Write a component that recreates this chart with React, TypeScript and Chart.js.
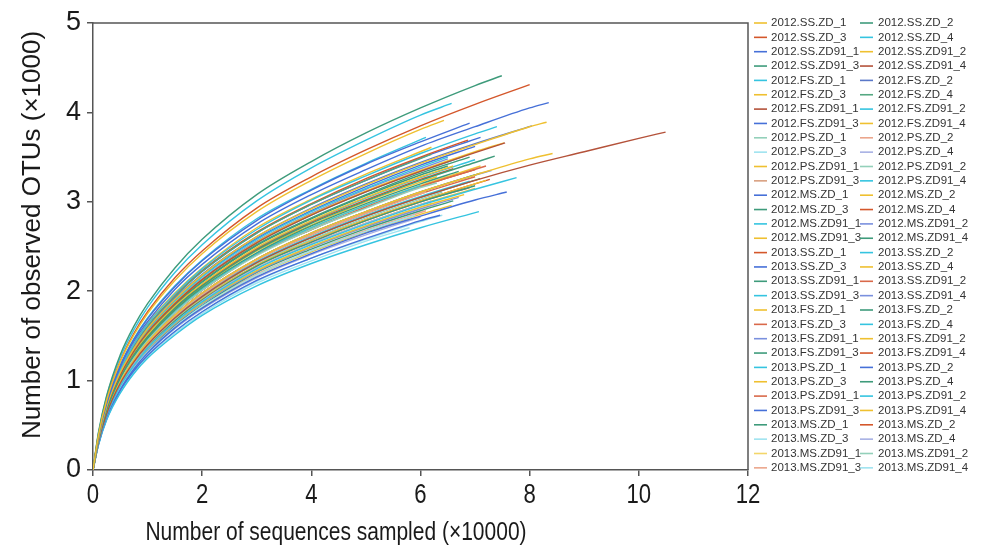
import { useEffect, useRef } from "react";
import { Chart, registerables } from "chart.js";
Chart.register(...registerables);

const xTicks = [0, 2, 4, 6, 8, 10, 12];
const yTicks = [0, 1, 2, 3, 4, 5];
const xTitle = "Number of sequences sampled (×10000)";
const yTitle = "Number of observed OTUs (×1000)";

// sampling depths (×10000) shared by all curves
const xGrid = [0, 0.1, 0.25, 0.5, 0.75, 1, 1.5, 2, 3, 4, 5, 6, 7, 8, 9, 10];

const names = [
  "2012.SS.ZD_1", "2012.SS.ZD_2", "2012.SS.ZD_3", "2012.SS.ZD_4",
  "2012.SS.ZD91_1", "2012.SS.ZD91_2", "2012.SS.ZD91_3", "2012.SS.ZD91_4",
  "2012.FS.ZD_1", "2012.FS.ZD_2", "2012.FS.ZD_3", "2012.FS.ZD_4",
  "2012.FS.ZD91_1", "2012.FS.ZD91_2", "2012.FS.ZD91_3", "2012.FS.ZD91_4",
  "2012.PS.ZD_1", "2012.PS.ZD_2", "2012.PS.ZD_3", "2012.PS.ZD_4",
  "2012.PS.ZD91_1", "2012.PS.ZD91_2", "2012.PS.ZD91_3", "2012.PS.ZD91_4",
  "2012.MS.ZD_1", "2012.MS.ZD_2", "2012.MS.ZD_3", "2012.MS.ZD_4",
  "2012.MS.ZD91_1", "2012.MS.ZD91_2", "2012.MS.ZD91_3", "2012.MS.ZD91_4",
  "2013.SS.ZD_1", "2013.SS.ZD_2", "2013.SS.ZD_3", "2013.SS.ZD_4",
  "2013.SS.ZD91_1", "2013.SS.ZD91_2", "2013.SS.ZD91_3", "2013.SS.ZD91_4",
  "2013.FS.ZD_1", "2013.FS.ZD_2", "2013.FS.ZD_3", "2013.FS.ZD_4",
  "2013.FS.ZD91_1", "2013.FS.ZD91_2", "2013.FS.ZD91_3", "2013.FS.ZD91_4",
  "2013.PS.ZD_1", "2013.PS.ZD_2", "2013.PS.ZD_3", "2013.PS.ZD_4",
  "2013.PS.ZD91_1", "2013.PS.ZD91_2", "2013.PS.ZD91_3", "2013.PS.ZD91_4",
  "2013.MS.ZD_1", "2013.MS.ZD_2", "2013.MS.ZD_3", "2013.MS.ZD_4",
  "2013.MS.ZD91_1", "2013.MS.ZD91_2", "2013.MS.ZD91_3", "2013.MS.ZD91_4",
];

const Y = "#EFC030", G = "#3E9B7B", R = "#D4572B", C = "#35C4E0", B = "#4670D8";
const BR = "#B4523A", LG = "#93D0BA", LS = "#EBA68C", LC = "#9FE3F0", LV = "#A7B0E4";
const LY = "#F3D66A", PW = "#7A90DE", SR = "#D9694A", TAN = "#D8A080", G2 = "#55A882", SL = "#5A78C8";

const colors = [
  Y, G, R, C, B, Y, G, BR, C, SL, Y, G2, BR, C, B, Y,
  LG, LS, LC, LV, Y, LG, TAN, C, B, Y, G, R, C, PW, Y, G,
  R, C, B, Y, G, SR, C, PW, Y, G, SR, C, PW, Y, G, R,
  C, B, Y, G, SR, C, B, Y, G, R, LC, LV, LY, LG, LS, LC,
];

const endX = [
  6.43, 7.49, 8.0, 6.57, 8.35, 8.31, 7.36, 7.55, 7.4, 8.04, 7.53, 6.2, 10.49, 7.76, 7.58, 8.42,
  6.3, 6.1, 5.9, 6.2, 6.6, 6.4, 6.8, 6.5, 6.9, 6.2, 6.7, 6.87, 6.0, 6.5, 6.8, 6.9,
  6.6, 6.1, 7.1, 6.3, 7.0, 7.2, 6.9, 6.7, 7.2, 7.1, 6.9, 7.0, 7.3, 7.0, 6.6, 7.27,
  7.07, 6.36, 6.57, 7.09, 7.0, 6.8, 7.0, 7.1, 6.5, 7.0, 6.4, 6.0, 6.3, 6.2, 6.1, 5.8,
];

const endY = [
  3.91, 4.41, 4.31, 4.10, 4.11, 3.89, 3.51, 3.66, 3.84, 3.85, 3.66, 3.53, 3.78, 3.27, 3.11, 3.54,
  3.21, 3.11, 2.85, 3.01, 3.40, 3.11, 3.26, 3.50, 3.88, 3.61, 3.34, 3.69, 3.18, 3.48, 3.08, 3.50,
  3.37, 3.72, 3.72, 3.28, 3.18, 3.40, 3.23, 3.05, 3.24, 3.32, 3.16, 3.47, 3.35, 3.15, 3.01, 3.25,
  2.89, 2.85, 2.96, 3.26, 3.28, 3.51, 3.62, 3.40, 3.40, 3.36, 2.85, 2.83, 2.97, 2.98, 2.90, 2.71,
];

// observed OTUs (×1000) at the xGrid depths
const y2012 = [
  [0, 0.39, 0.78, 1.21, 1.51, 1.75, 2.12, 2.42, 2.89, 3.24, 3.54, 3.81],
  [0, 0.42, 0.83, 1.29, 1.61, 1.86, 2.26, 2.58, 3.08, 3.45, 3.77, 4.05, 4.30],
  [0, 0.40, 0.79, 1.22, 1.53, 1.77, 2.15, 2.45, 2.93, 3.28, 3.58, 3.85, 4.09],
  [0, 0.41, 0.82, 1.26, 1.57, 1.82, 2.21, 2.52, 3.01, 3.38, 3.69, 3.97],
  [0, 0.37, 0.74, 1.15, 1.44, 1.66, 2.02, 2.30, 2.75, 3.08, 3.36, 3.62, 3.84, 4.05],
  [0, 0.35, 0.71, 1.09, 1.36, 1.58, 1.91, 2.18, 2.61, 2.92, 3.19, 3.43, 3.64, 3.84],
  [0, 0.34, 0.67, 1.03, 1.29, 1.49, 1.81, 2.06, 2.46, 2.76, 3.01, 3.24, 3.44],
  [0, 0.35, 0.69, 1.06, 1.33, 1.54, 1.86, 2.13, 2.54, 2.85, 3.11, 3.34, 3.55],
  [0, 0.37, 0.73, 1.12, 1.41, 1.63, 1.97, 2.25, 2.69, 3.02, 3.29, 3.54, 3.76],
  [0, 0.36, 0.71, 1.09, 1.37, 1.58, 1.92, 2.19, 2.61, 2.93, 3.20, 3.44, 3.65],
  [0, 0.35, 0.69, 1.06, 1.33, 1.54, 1.87, 2.13, 2.55, 2.86, 3.12, 3.35, 3.56],
  [0, 0.36, 0.72, 1.11, 1.38, 1.60, 1.94, 2.22, 2.65, 2.97, 3.24],
  [0, 0.32, 0.63, 0.97, 1.21, 1.40, 1.70, 1.94, 2.32, 2.60, 2.84, 3.05, 3.24, 3.41, 3.56, 3.71],
  [0, 0.31, 0.61, 0.94, 1.17, 1.36, 1.65, 1.88, 2.25, 2.52, 2.75, 2.96, 3.14],
  [0, 0.29, 0.59, 0.90, 1.13, 1.31, 1.59, 1.81, 2.16, 2.42, 2.65, 2.84, 3.02],
  [0, 0.32, 0.64, 0.99, 1.23, 1.43, 1.73, 1.98, 2.36, 2.65, 2.89, 3.11, 3.30, 3.48],
  [0, 0.33, 0.65, 1.00, 1.25, 1.45, 1.76, 2.01, 2.40, 2.69, 2.93, 3.16],
  [0, 0.32, 0.64, 0.98, 1.23, 1.42, 1.72, 1.96, 2.35, 2.63, 2.87],
  [0, 0.30, 0.59, 0.91, 1.14, 1.32, 1.60, 1.83, 2.18, 2.45, 2.67],
  [0, 0.31, 0.61, 0.94, 1.18, 1.36, 1.65, 1.89, 2.26, 2.53, 2.76],
  [0, 0.34, 0.68, 1.04, 1.30, 1.51, 1.83, 2.08, 2.49, 2.79, 3.05, 3.28],
  [0, 0.31, 0.62, 0.96, 1.20, 1.39, 1.69, 1.93, 2.31, 2.58, 2.82, 3.03],
  [0, 0.32, 0.64, 0.99, 1.23, 1.43, 1.73, 1.98, 2.36, 2.65, 2.89, 3.11],
  [0, 0.35, 0.70, 1.08, 1.35, 1.56, 1.89, 2.16, 2.58, 2.89, 3.15, 3.39],
  [0, 0.38, 0.76, 1.17, 1.46, 1.69, 2.05, 2.34, 2.79, 3.13, 3.42, 3.67],
  [0, 0.37, 0.73, 1.13, 1.41, 1.64, 1.98, 2.26, 2.71, 3.03, 3.31],
  [0, 0.33, 0.66, 1.02, 1.27, 1.47, 1.79, 2.04, 2.43, 2.73, 2.98, 3.20],
  [0, 0.36, 0.72, 1.11, 1.39, 1.61, 1.95, 2.23, 2.66, 2.98, 3.26, 3.50],
  [0, 0.33, 0.66, 1.01, 1.26, 1.46, 1.77, 2.02, 2.42, 2.71, 2.96],
  [0, 0.35, 0.69, 1.07, 1.34, 1.55, 1.88, 2.14, 2.56, 2.87, 3.14, 3.37],
  [0, 0.30, 0.61, 0.93, 1.17, 1.35, 1.64, 1.87, 2.23, 2.50, 2.73, 2.94],
  [0, 0.34, 0.68, 1.05, 1.32, 1.52, 1.85, 2.11, 2.52, 2.82, 3.08, 3.32],
];

const y2013 = [
  [0, 0.34, 0.67, 1.03, 1.29, 1.49, 1.81, 2.07, 2.47, 2.77, 3.02, 3.25],
  [0, 0.38, 0.76, 1.17, 1.47, 1.70, 2.06, 2.35, 2.81, 3.14, 3.43],
  [0, 0.36, 0.72, 1.11, 1.38, 1.60, 1.94, 2.22, 2.65, 2.97, 3.24, 3.49],
  [0, 0.33, 0.66, 1.02, 1.28, 1.48, 1.80, 2.05, 2.45, 2.74, 3.00, 3.22],
  [0, 0.31, 0.62, 0.95, 1.19, 1.38, 1.67, 1.90, 2.28, 2.55, 2.79, 3.00],
  [0, 0.33, 0.65, 1.00, 1.26, 1.45, 1.76, 2.01, 2.41, 2.69, 2.94, 3.17],
  [0, 0.32, 0.63, 0.97, 1.22, 1.41, 1.71, 1.95, 2.33, 2.61, 2.85, 3.06],
  [0, 0.30, 0.60, 0.93, 1.16, 1.34, 1.63, 1.86, 2.22, 2.49, 2.72, 2.92],
  [0, 0.31, 0.62, 0.96, 1.20, 1.39, 1.68, 1.92, 2.29, 2.57, 2.80, 3.01],
  [0, 0.32, 0.64, 0.99, 1.23, 1.43, 1.73, 1.98, 2.36, 2.65, 2.89, 3.11],
  [0, 0.31, 0.62, 0.95, 1.19, 1.38, 1.67, 1.90, 2.28, 2.55, 2.79, 3.00],
  [0, 0.34, 0.67, 1.04, 1.30, 1.50, 1.82, 2.08, 2.48, 2.78, 3.04, 3.27],
  [0, 0.32, 0.64, 0.99, 1.23, 1.43, 1.73, 1.98, 2.36, 2.65, 2.89, 3.11, 3.30],
  [0, 0.31, 0.61, 0.94, 1.18, 1.36, 1.65, 1.89, 2.26, 2.53, 2.76, 2.97],
  [0, 0.30, 0.60, 0.92, 1.15, 1.33, 1.62, 1.84, 2.21, 2.47, 2.70, 2.90],
  [0, 0.31, 0.62, 0.96, 1.20, 1.39, 1.68, 1.92, 2.29, 2.57, 2.80, 3.01, 3.20],
  [0, 0.28, 0.56, 0.86, 1.08, 1.25, 1.51, 1.73, 2.06, 2.31, 2.52, 2.71],
  [0, 0.29, 0.57, 0.89, 1.11, 1.28, 1.55, 1.77, 2.12, 2.37, 2.59, 2.79],
  [0, 0.30, 0.59, 0.91, 1.14, 1.32, 1.60, 1.82, 2.18, 2.44, 2.66, 2.86],
  [0, 0.32, 0.63, 0.97, 1.21, 1.40, 1.70, 1.94, 2.32, 2.60, 2.84, 3.05],
  [0, 0.32, 0.64, 0.98, 1.23, 1.42, 1.72, 1.96, 2.35, 2.63, 2.87, 3.09],
  [0, 0.35, 0.69, 1.06, 1.33, 1.54, 1.86, 2.13, 2.54, 2.85, 3.11, 3.34],
  [0, 0.35, 0.70, 1.08, 1.35, 1.57, 1.90, 2.17, 2.59, 2.90, 3.17, 3.41],
  [0, 0.33, 0.66, 1.01, 1.26, 1.46, 1.77, 2.02, 2.42, 2.71, 2.96, 3.18],
  [0, 0.34, 0.68, 1.05, 1.31, 1.52, 1.84, 2.10, 2.51, 2.81, 3.07, 3.30],
  [0, 0.33, 0.65, 1.00, 1.26, 1.45, 1.76, 2.01, 2.41, 2.69, 2.94, 3.17],
  [0, 0.29, 0.57, 0.88, 1.10, 1.28, 1.55, 1.77, 2.11, 2.37, 2.58, 2.78],
  [0, 0.29, 0.58, 0.90, 1.12, 1.30, 1.58, 1.80, 2.15, 2.41, 2.63],
  [0, 0.30, 0.60, 0.93, 1.16, 1.34, 1.63, 1.86, 2.22, 2.49, 2.72, 2.92],
  [0, 0.30, 0.61, 0.93, 1.17, 1.35, 1.64, 1.87, 2.23, 2.50, 2.73],
  [0, 0.30, 0.59, 0.91, 1.14, 1.32, 1.61, 1.83, 2.19, 2.45, 2.68],
  [0, 0.28, 0.57, 0.87, 1.09, 1.26, 1.53, 1.75, 2.09, 2.34, 2.56],
];

const FONT = '"Liberation Sans", Arial, sans-serif';

const decorPlugin = {
  id: "decor",
  afterDraw(chart: any) {
    const { ctx, chartArea: a } = chart;
    const xs = chart.scales.x;
    const ys = chart.scales.y;
    ctx.save();
    // top / right frame
    ctx.strokeStyle = "#555";
    ctx.lineWidth = 1.5;
    ctx.beginPath();
    ctx.moveTo(a.left, a.top);
    ctx.lineTo(a.right, a.top);
    ctx.lineTo(a.right, a.bottom);
    ctx.stroke();

    ctx.fillStyle = "#1a1a1a";
    // y tick labels
    ctx.font = `27px ${FONT}`;
    ctx.textAlign = "right";
    ctx.textBaseline = "middle";
    yTicks.forEach((v) => ctx.fillText(String(v), 81, ys.getPixelForValue(v)));
    // x tick labels (narrow)
    xTicks.forEach((v) => {
      ctx.save();
      ctx.translate(xs.getPixelForValue(v), 496);
      ctx.scale(0.82, 1);
      ctx.textAlign = "center";
      ctx.textBaseline = "middle";
      ctx.fillText(String(v), 0, 0);
      ctx.restore();
    });
    // x title
    ctx.save();
    ctx.font = `25px ${FONT}`;
    ctx.translate(336, 533);
    ctx.scale(0.84, 1);
    ctx.textAlign = "center";
    ctx.textBaseline = "middle";
    ctx.fillText(xTitle, 0, 0);
    ctx.restore();
    // y title
    ctx.save();
    ctx.font = `26px ${FONT}`;
    ctx.translate(33, 235);
    ctx.rotate(-Math.PI / 2);
    ctx.textAlign = "center";
    ctx.textBaseline = "middle";
    ctx.fillText(yTitle, 0, 0);
    ctx.restore();

    // legend: two columns, row-major
    ctx.font = `11.5px ${FONT}`;
    ctx.textAlign = "left";
    ctx.textBaseline = "middle";
    chart.data.datasets.forEach((ds: any, i: number) => {
      const row = Math.floor(i / 2);
      const col = i % 2;
      const yy = 23 + row * 14.35;
      const sx = col === 0 ? 754 : 860;
      const tx = col === 0 ? 771 : 878;
      ctx.strokeStyle = ds.borderColor;
      ctx.lineWidth = 1.6;
      ctx.beginPath();
      ctx.moveTo(sx, yy);
      ctx.lineTo(sx + 13, yy);
      ctx.stroke();
      ctx.fillStyle = "#333";
      ctx.fillText(ds.label, tx, yy);
    });
    ctx.restore();
  },
};

export default function App() {
  const ref = useRef<HTMLCanvasElement>(null);
  useEffect(() => {
    const all = [...y2012, ...y2013];
    const datasets = names.map((n, i) => ({
      label: n,
      data: [
        ...all[i].map((v, j) => ({ x: xGrid[j], y: v })),
        { x: endX[i], y: endY[i] },
      ],
      borderColor: colors[i],
      backgroundColor: colors[i],
      borderWidth: 1.4,
      pointRadius: 0,
      fill: false,
      cubicInterpolationMode: "monotone" as const,
    }));
    const chart = new Chart(ref.current!, {
      type: "line",
      data: { datasets },
      options: {
        responsive: false,
        animation: false,
        layout: { padding: { left: 0, right: 234, top: 23, bottom: 0 } },
        plugins: { legend: { display: false }, tooltip: { enabled: false } },
        scales: {
          x: {
            type: "linear",
            min: 0,
            max: 12,
            ticks: { stepSize: 2, display: false },
            grid: { display: true, drawOnChartArea: false, drawTicks: true, tickLength: 6, color: "#555", lineWidth: 1.5 },
            border: { display: true, color: "#555", width: 1.5 },
            afterFit: (s: any) => { s.height = 82; },
          },
          y: {
            type: "linear",
            min: 0,
            max: 5,
            ticks: { stepSize: 1, display: false },
            grid: { display: true, drawOnChartArea: false, drawTicks: true, tickLength: 6, color: "#555", lineWidth: 1.5 },
            border: { display: true, color: "#555", width: 1.5 },
            afterFit: (s: any) => { s.width = 93; },
          },
        },
      },
      plugins: [decorPlugin],
    });
    return () => chart.destroy();
  }, []);
  return (
    <div style={{ position: "fixed", left: 0, top: 0, width: 982, height: 552, background: "#fff" }}>
      <canvas ref={ref} width={982} height={552} style={{ display: "block" }} />
    </div>
  );
}
